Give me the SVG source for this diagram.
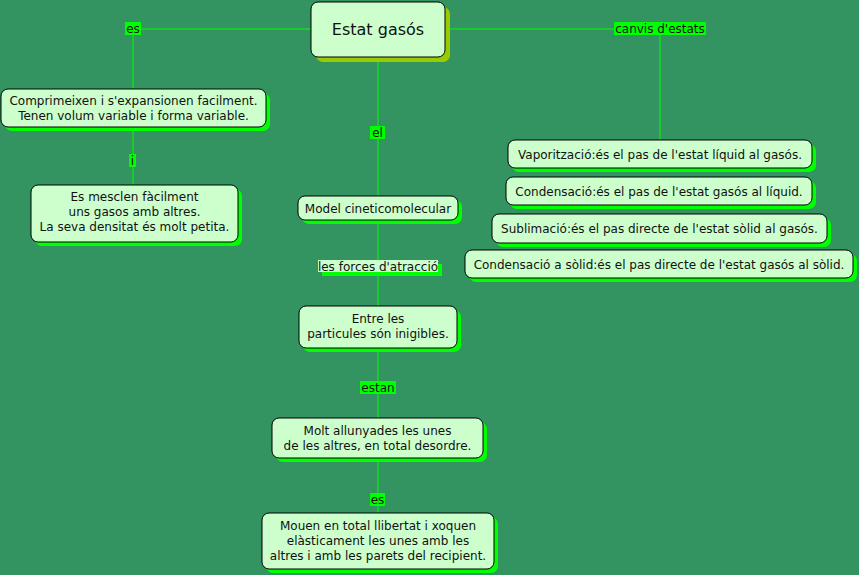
<svg xmlns="http://www.w3.org/2000/svg" width="859" height="575" viewBox="0 0 859 575">
<style>
.bg{fill:#339461}
.ln{stroke:#00ff00;stroke-width:1;fill:none}
.sh{fill:#00ff00}
.nd{fill:#ccffcc;stroke:#000;stroke-width:1}
.t{font-family:"DejaVu Sans",Verdana,sans-serif;font-size:12px;fill:#111;text-anchor:middle}
.lb{fill:#00ff00}
.lt{font-family:"DejaVu Sans",Verdana,sans-serif;font-size:12px;fill:#111;text-anchor:middle}
</style>
<rect class="bg" x="0" y="0" width="859" height="575"/>
<g id="connectors">
<path class="ln" d="M311,29H141M125,29H133V89"/>
<path class="ln" d="M445,29H614M660,35V140"/>
<path class="ln" d="M133,127V154M133,167V185"/>
<path class="ln" d="M378,57V126M378,139V196"/>
<path class="ln" d="M378,220V260M378,272V306"/>
<path class="ln" d="M378,348V382M378,393V418"/>
<path class="ln" d="M378,458V494M378,505V513"/>
</g>
<g id="labels">
<g id="l-es1"><rect class="lb" x="125" y="22" width="16" height="13"/><text class="lt" x="133" y="33">es</text></g>
<g id="l-canvis"><rect class="lb" x="614" y="22" width="92" height="13"/><text class="lt" x="660" y="33">canvis d'estats</text></g>
<g id="l-i"><rect class="lb" x="129" y="154" width="7" height="13"/><text class="lt" x="132.5" y="164.5">i</text></g>
<g id="l-el"><rect class="lb" x="370" y="126" width="15" height="13"/><text class="lt" x="377.5" y="136.5">el</text></g>
<g id="l-forces"><rect class="sh" x="322" y="264" width="120" height="12"/><rect fill="#ccffcc" x="318" y="260" width="120" height="12"/><text class="lt" x="378" y="270.5">les forces d'atracció</text></g>
<g id="l-estan"><rect class="lb" x="360" y="381" width="36" height="13"/><text class="lt" x="378" y="391.5">estan</text></g>
<g id="l-es2"><rect class="lb" x="370" y="493" width="15" height="13"/><text class="lt" x="377.5" y="503.5">es</text></g>
</g>
<g id="title"><rect fill="#99cc00" x="316" y="7" width="134" height="55" rx="7"/><rect class="nd" x="311" y="2" width="134" height="55" rx="7"/><text class="t" style="font-size:16px" x="378" y="35">Estat gasós</text></g>
<g id="n-comprimeixen"><rect class="sh" x="5" y="93" width="265" height="38" rx="7"/><rect class="nd" x="1" y="89" width="265" height="38" rx="7"/><text class="t" x="133.5" y="105">Comprimeixen i s'expansionen facilment.</text><text class="t" x="133.5" y="120">Tenen volum variable i forma variable.</text></g>
<g id="n-mesclen"><rect class="sh" x="35" y="189" width="207" height="57" rx="7"/><rect class="nd" x="31" y="185" width="207" height="57" rx="7"/><text class="t" x="134.5" y="201">Es mesclen fàcilment</text><text class="t" x="134.5" y="216">uns gasos amb altres.</text><text class="t" x="134.5" y="231">La seva densitat és molt petita.</text></g>
<g id="n-model"><rect class="sh" x="302" y="200" width="160" height="24" rx="7"/><rect class="nd" x="298" y="196" width="160" height="24" rx="7"/><text class="t" x="378" y="212.5">Model cineticomolecular</text></g>
<g id="n-entre"><rect class="sh" x="303" y="310" width="158" height="42" rx="7"/><rect class="nd" x="299" y="306" width="158" height="42" rx="7"/><text class="t" x="378" y="323">Entre les</text><text class="t" x="378" y="338">particules són inigibles.</text></g>
<g id="n-molt"><rect class="sh" x="276" y="422" width="211" height="40" rx="7"/><rect class="nd" x="272" y="418" width="211" height="40" rx="7"/><text class="t" x="377.5" y="435">Molt allunyades les unes</text><text class="t" x="377.5" y="450">de les altres, en total desordre.</text></g>
<g id="n-mouen"><rect class="sh" x="266" y="517" width="232" height="56" rx="7"/><rect class="nd" x="262" y="513" width="232" height="56" rx="7"/><text class="t" x="378" y="530">Mouen en total llibertat i xoquen</text><text class="t" x="378" y="545">elàsticament les unes amb les</text><text class="t" x="378" y="560">altres i amb les parets del recipient.</text></g>
<g id="n-vapor"><rect class="sh" x="512" y="144" width="304" height="28" rx="7"/><rect class="nd" x="508" y="140" width="304" height="28" rx="7"/><text class="t" x="660" y="158.5">Vaporització:és el pas de l'estat líquid al gasós.</text></g>
<g id="n-conden"><rect class="sh" x="510" y="181" width="306" height="28" rx="7"/><rect class="nd" x="506" y="177" width="306" height="28" rx="7"/><text class="t" x="659" y="195.5">Condensació:és el pas de l'estat gasós al líquid.</text></g>
<g id="n-subli"><rect class="sh" x="496" y="218" width="335" height="29" rx="7"/><rect class="nd" x="492" y="214" width="335" height="29" rx="7"/><text class="t" x="659.5" y="232.5">Sublimació:és el pas directe de l'estat sòlid al gasós.</text></g>
<g id="n-condsol"><rect class="sh" x="469" y="254" width="388" height="28" rx="7"/><rect class="nd" x="465" y="250" width="388" height="28" rx="7"/><text class="t" x="659" y="268.5">Condensació a sòlid:és el pas directe de l'estat gasós al sòlid.</text></g>
</svg>
